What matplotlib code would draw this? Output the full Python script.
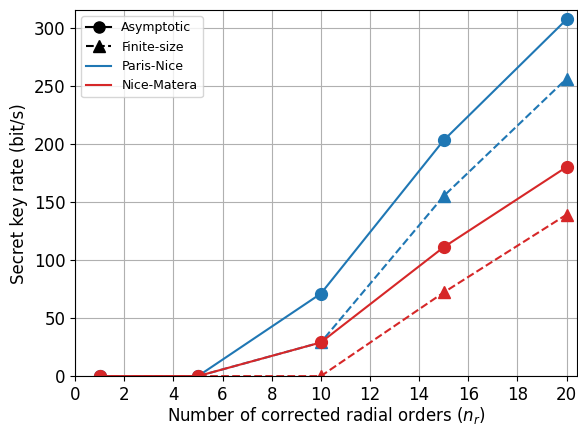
import numpy as np
import matplotlib
matplotlib.use("Agg")
import matplotlib.pyplot as plt
from matplotlib.lines import Line2D

n_r = [1, 5, 10, 15, 20]
pn_asym = [0, 0, 71, 203, 307]
pn_finite = [0, 0, 29, 155, 256]
nm_asym = [0, 0, 29, 111, 180]
nm_finite = [0, 0, 0, 72, 139]

c_pn = 'tab:blue'
c_nm = 'tab:red'

fig, ax = plt.subplots(figsize=(5.78, 4.25), dpi=100)

ax.plot(n_r, pn_asym, '-o', color=c_pn, markersize=8.5)
ax.plot(n_r, pn_finite, '--^', color=c_pn, markersize=8.5)
ax.plot(n_r, nm_asym, '-o', color=c_nm, markersize=8.5)
ax.plot(n_r, nm_finite, '--^', color=c_nm, markersize=8.5)

ax.set_xlim(0, 20.42)
ax.set_ylim(0, 315)
ax.set_xticks(np.arange(0, 21, 2))
ax.grid(True)
ax.tick_params(labelsize=12)
ax.set_xlabel("Number of corrected radial orders ($n_r$)", fontsize=12, labelpad=1)
ax.set_ylabel("Secret key rate (bit/s)", fontsize=12)

handles = [
    Line2D([], [], color='k', linestyle='-', marker='o', markersize=8),
    Line2D([], [], color='k', linestyle='--', marker='^', markersize=8),
    Line2D([], [], color=c_pn),
    Line2D([], [], color=c_nm),
]
ax.legend(handles, ['Asymptotic', 'Finite-size', 'Paris-Nice', 'Nice-Matera'],
          loc='upper left', fontsize=9)

fig.subplots_adjust(left=0.13, right=0.998, bottom=0.115, top=0.976)
plt.savefig("out.png", dpi=100)
